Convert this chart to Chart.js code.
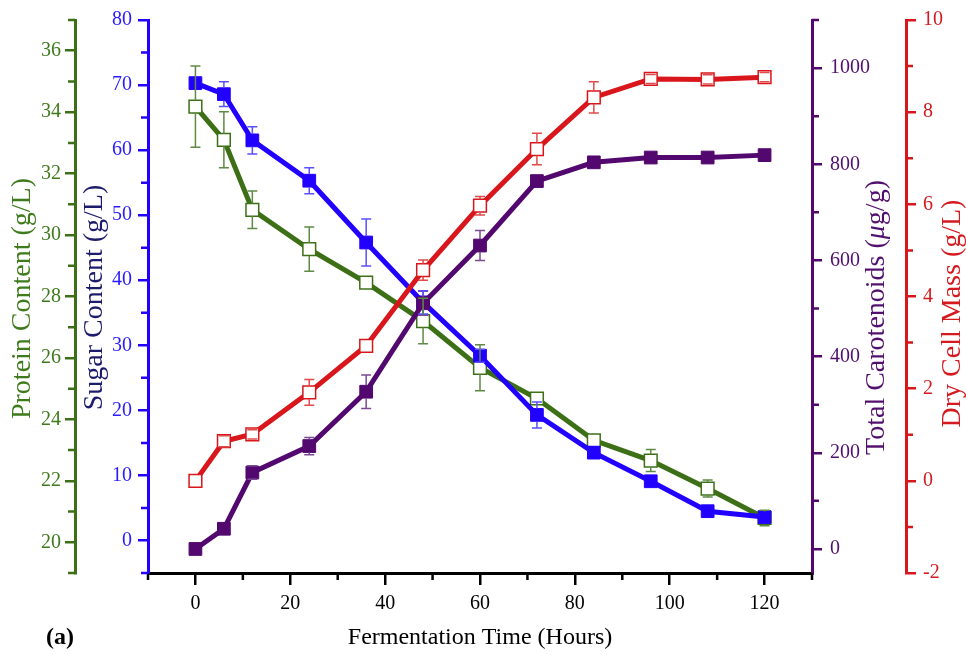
<!DOCTYPE html>
<html><head><meta charset="utf-8">
<script src="https://cdn.jsdelivr.net/npm/chart.js@4"></script>
<style>html,body{margin:0;padding:0;background:#fff;}canvas{display:block;}</style>
</head><body>
<canvas id="c" width="966" height="655"></canvas>
<script>
// ---------- data ----------
const times = [0, 6, 12, 24, 36, 48, 60, 72, 84, 96, 108, 120];
const sugar = [70.3, 68.6, 61.5, 55.3, 45.8, 36.6, 28.4, 19.3, 13.5, 9.1, 4.5, 3.6];
const sugarErr = [0, 1.9, 2.1, 2.0, 3.6, 1.8, 1.0, 2.0, 0, 0, 0, 0];
const protein = [34.18, 33.10, 30.82, 29.54, 28.45, 27.20, 25.68, 24.68, 23.32, 22.66, 21.75, 20.79];
const proteinErr = [1.32, 0.91, 0.61, 0.72, 0, 0.74, 0.75, 0, 0, 0.36, 0.28, 0.25];
const carotenoids = [0, 42, 159, 214, 327, 511, 631, 765, 804, 814, 814, 819];
const carotErr = [0, 0, 14, 18, 35, 25, 31, 0, 0, 0, 0, 0];
const dcm = [0.0, 0.86, 1.01, 1.92, 2.93, 4.57, 5.97, 7.20, 8.32, 8.72, 8.71, 8.76];
const dcmErr = [0, 0.12, 0.1, 0.28, 0, 0.22, 0.2, 0.34, 0.34, 0.1, 0.1, 0.1];

const xTickValues = [0, 20, 40, 60, 80, 100, 120];
const xMinorTicks = [-10, 10, 30, 50, 70, 90, 110, 130];
const proteinTicks = [20, 22, 24, 26, 28, 30, 32, 34, 36];
const proteinMinor = [19, 21, 23, 25, 27, 29, 31, 33, 35, 37];
const sugarTicks = [0, 10, 20, 30, 40, 50, 60, 70, 80];
const sugarMinor = [-5, 5, 15, 25, 35, 45, 55, 65, 75];
const carotTicks = [0, 200, 400, 600, 800, 1000];
const carotMinor = [100, 300, 500, 700, 900, 1100];
const dcmTicks = [-2, 0, 2, 4, 6, 8, 10];
const dcmMinor = [-1, 1, 3, 5, 7, 9];

const xTitle = 'Fermentation Time (Hours)';
const proteinTitle = ['Protein Content (g/L)'];
const sugarTitle = ['Sugar Content (g/L)'];
const carotTitle = ['Total Carotenoids (', 'μ', 'g/g)'];
const dcmTitle = ['Dry Cell Mass (g/L)'];
const panelLabel = '(a)';

// ---------- styles ----------
const FONT = "'Liberation Serif', 'Times New Roman', serif";
Chart.defaults.font.family = FONT;
const C = {
  green: '#3d7016', greenTxt: '#3f7a1c', greenErr: '#5f8a45',
  blue: '#2200ff', blueTxt: '#2a1cff', blueTitle: '#1c1c6b', blueErr: '#5a50ff',
  purple: '#52086e', purpleTxt: '#52106e', purpleErr: '#7a4a95',
  red: '#d8161b', redTxt: '#d41a1f', redErr: '#e04a4a'
};

const pts = arr => times.map((t, i) => ({x: t, y: arr[i]}));

function yScale(o) {
  return {
    type: 'linear', position: o.pos, weight: o.weight, min: o.min, max: o.max,
    afterBuildTicks: s => { s.ticks = o.ticks.map(v => ({value: v})); },
    afterFit: s => { s.width = o.width; },
    ticks: {color: o.txt, font: {size: 20}, padding: o.pad, autoSkip: false, maxRotation: 0, callback: v => String(v)},
    grid: {drawOnChartArea: false, drawTicks: true, tickLength: 10, tickColor: o.color, tickWidth: 2.5, lineWidth: 2.5, color: o.color},
    border: {display: true, color: o.color, width: 3},
    title: {display: false}
  };
}

const axisExtras = {
  x:  {minor: xMinorTicks, color: '#000'},
  yP: {minor: proteinMinor, color: C.green, title: proteinTitle, titleColor: C.greenTxt, dx: 23, dy: 2},
  yS: {minor: sugarMinor, color: C.blue, title: sugarTitle, titleColor: C.blueTitle, dx: 20, dy: 1},
  yC: {minor: carotMinor, color: C.purple, title: carotTitle, titleColor: C.purpleTxt, dx: 65, dy: 21, italicIdx: 1},
  yD: {minor: dcmMinor, color: C.red, title: dcmTitle, titleColor: C.redTxt, dx: 47, dy: 17}
};

const errorSets = [dcmErr, carotErr, sugarErr, proteinErr];
const errorColors = [C.redErr, C.purpleErr, C.blueErr, C.greenErr];

const extras = {
  id: 'extras',
  afterDatasetsDraw(chart) {
    const ctx = chart.ctx;
    chart.data.datasets.forEach((ds, i) => {
      const meta = chart.getDatasetMeta(i);
      const ys = chart.scales[ds.yAxisID];
      const err = errorSets[i];
      ctx.save();
      ctx.strokeStyle = errorColors[i];
      ctx.lineWidth = 1.5;
      meta.data.forEach((pt, j) => {
        const e = err[j];
        if (!e) return;
        const v = ds.data[j].y;
        const x = pt.x, y = pt.y;
        const y1 = ys.getPixelForValue(v + e);
        const y2 = ys.getPixelForValue(v - e);
        const half = 6.5;
        ctx.beginPath();
        if (y1 < y - half) { ctx.moveTo(x, y1); ctx.lineTo(x, y - half); }
        if (y2 > y + half) { ctx.moveTo(x, y + half); ctx.lineTo(x, y2); }
        ctx.moveTo(x - 5, y1); ctx.lineTo(x + 5, y1);
        ctx.moveTo(x - 5, y2); ctx.lineTo(x + 5, y2);
        ctx.stroke();
      });
      ctx.restore();
    });
  },
  afterDraw(chart) {
    const ctx = chart.ctx;
    const area = chart.chartArea;
    const midY = (area.top + area.bottom) / 2;
    Object.keys(axisExtras).forEach(id => {
      const s = chart.scales[id];
      const ex = axisExtras[id];
      ctx.save();
      ctx.strokeStyle = ex.color;
      ctx.lineWidth = 2.5;
      ctx.beginPath();
      ex.minor.forEach(v => {
        const p = s.getPixelForValue(v);
        if (id === 'x') { ctx.moveTo(p, s.top); ctx.lineTo(p, s.top + 7); }
        else if (s.position === 'left') { ctx.moveTo(s.right - 7, p); ctx.lineTo(s.right, p); }
        else { ctx.moveTo(s.left, p); ctx.lineTo(s.left + 7, p); }
      });
      ctx.stroke();
      ctx.restore();
      if (ex.title) {
        ctx.save();
        ctx.translate(s.left + ex.dx, midY + ex.dy);
        ctx.rotate(-Math.PI / 2);
        ctx.fillStyle = ex.titleColor;
        ctx.textBaseline = 'middle';
        ctx.textAlign = 'left';
        const fonts = ex.title.map((t, k) => (k === ex.italicIdx ? 'italic ' : '') + '28px ' + FONT);
        let total = 0;
        const widths = ex.title.map((t, k) => { ctx.font = fonts[k]; const w = ctx.measureText(t).width; total += w; return w; });
        let xx = -total / 2;
        ex.title.forEach((t, k) => { ctx.font = fonts[k]; ctx.fillText(t, xx, 0); xx += widths[k]; });
        ctx.restore();
      }
    });
    ctx.save();
    ctx.fillStyle = '#000';
    ctx.font = 'bold 24px ' + FONT;
    ctx.textAlign = 'center';
    ctx.textBaseline = 'middle';
    ctx.fillText(panelLabel, 60, 638);
    ctx.restore();
  }
};

const lineDs = (label, arr, axis, color, open) => ({
  label, data: pts(arr), yAxisID: axis,
  borderColor: color, borderWidth: 5, tension: 0,
  pointStyle: 'rect', pointRadius: 9, pointHoverRadius: 9,
  pointBackgroundColor: open ? '#ffffff' : color,
  pointBorderColor: color, pointBorderWidth: open ? 1.5 : 1
});

new Chart(document.getElementById('c'), {
  type: 'line',
  data: {
    datasets: [
      lineDs('Dry Cell Mass', dcm, 'yD', C.red, true),
      lineDs('Total Carotenoids', carotenoids, 'yC', C.purple, false),
      lineDs('Sugar Content', sugar, 'yS', C.blue, false),
      lineDs('Protein Content', protein, 'yP', C.green, true)
    ]
  },
  options: {
    responsive: false, animation: false, devicePixelRatio: 1,
    layout: {padding: {top: 20, left: 0, right: 0, bottom: 0}},
    plugins: {legend: {display: false}, tooltip: {enabled: false}},
    scales: {
      x: {
        type: 'linear', position: 'bottom', min: -10, max: 130,
        afterBuildTicks: s => { s.ticks = xTickValues.map(v => ({value: v})); },
        afterFit: s => { s.height = 82; },
        ticks: {color: '#000', font: {size: 20}, padding: 7, autoSkip: false, maxRotation: 0, callback: v => String(v)},
        grid: {drawOnChartArea: false, drawTicks: true, tickLength: 12, tickColor: '#000', tickWidth: 2.5, lineWidth: 2.5, color: '#000'},
        border: {display: true, color: '#000', width: 3},
        title: {display: true, text: xTitle, color: '#000', font: {size: 24}, padding: {top: 0, bottom: 3}}
      },
      yP: yScale({pos: 'left', weight: 2, min: 19, max: 37, ticks: proteinTicks, width: 75, pad: 4, color: C.green, txt: C.greenTxt}),
      yS: yScale({pos: 'left', weight: 1, min: -5, max: 80, ticks: sugarTicks, width: 73, pad: 6, color: C.blue, txt: C.blueTxt}),
      yC: yScale({pos: 'right', weight: 1, min: -50, max: 1100, ticks: carotTicks, width: 94, pad: 8, color: C.purple, txt: C.purpleTxt}),
      yD: yScale({pos: 'right', weight: 2, min: -2, max: 10, ticks: dcmTicks, width: 60, pad: 7, color: C.red, txt: C.redTxt})
    }
  },
  plugins: [extras]
});
</script>
</body></html>
